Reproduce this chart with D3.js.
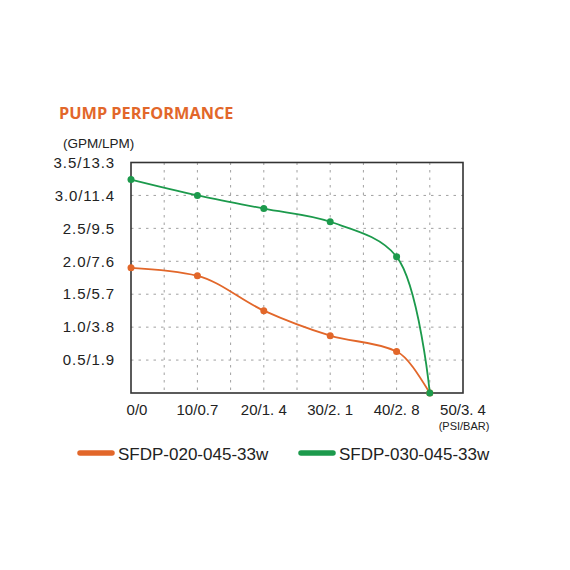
<!DOCTYPE html>
<html>
<head>
<meta charset="utf-8">
<script src="https://d3js.org/d3.v7.min.js"></script>
<style>
  body { margin: 0; background: #fff; }
  svg { display: block; font-family: "Liberation Sans", Arial, sans-serif; }
</style>
</head>
<body>
<script>
// pressure in psi (x), flow in gpm (y)
var psi = [0, 10, 20, 30, 40, 45];
var flow020 = [1.9, 1.78, 1.25, 0.87, 0.63, 0];
var flow030 = [3.24, 3.0, 2.8, 2.6, 2.07, 0];

var xTicks = [0, 10, 20, 30, 40, 50];
var xTickLabels = ["0/0", "10/0.7", "20/1. 4", "30/2. 1", "40/2. 8", "50/3. 4"];
var yTicks = [0.5, 1.0, 1.5, 2.0, 2.5, 3.0, 3.5];
var yTickLabels = ["0.5/1.9", "1.0/3.8", "1.5/5.7", "2.0/7.6", "2.5/9.5", "3.0/11.4", "3.5/13.3"];

var seriesNames = ["SFDP-020-045-33w", "SFDP-030-045-33w"];
var orange = "#e2672a";
var green = "#1c9a4c";

var width = 570, height = 570;
var plotL = 131, plotR = 463, plotT = 162.5, plotB = 393;

var svg = d3.select("body").append("svg")
    .attr("width", width)
    .attr("height", height);

var x = d3.scaleLinear().domain([0, 50]).range([plotL, plotR]);
var y = d3.scaleLinear().domain([0, 3.5]).range([plotB, plotT]);

// title
svg.append("text")
    .attr("x", 59).attr("y", 119)
    .attr("font-family", "'Open Sans', sans-serif")
    .attr("font-weight", "bold")
    .attr("font-size", 16.3)
    .attr("fill", orange)
    .text("PUMP PERFORMANCE");

svg.append("text")
    .attr("x", 63).attr("y", 148)
    .attr("font-size", 13.5)
    .attr("fill", "#222")
    .text("(GPM/LPM)");

// grid, every 5 psi and every 0.5 gpm
var g = svg.append("g");
g.selectAll(".vgrid")
    .data(d3.range(5, 50, 5))
    .enter().append("line")
    .attr("x1", d => x(d)).attr("x2", d => x(d))
    .attr("y1", plotT).attr("y2", plotB)
    .attr("stroke", "#a0a0a0")
    .attr("stroke-width", 1)
    .attr("stroke-dasharray", "2.5,5");

g.selectAll(".hgrid")
    .data(yTicks.slice(0, -1))
    .enter().append("line")
    .attr("x1", plotL).attr("x2", plotR)
    .attr("y1", d => y(d)).attr("y2", d => y(d))
    .attr("stroke", "#a0a0a0")
    .attr("stroke-width", 1)
    .attr("stroke-dasharray", "2.5,5");

svg.append("rect")
    .attr("x", plotL).attr("y", plotT)
    .attr("width", plotR - plotL).attr("height", plotB - plotT)
    .attr("fill", "none")
    .attr("stroke", "#333")
    .attr("stroke-width", 1.6);

// axis labels
svg.selectAll(".ylab")
    .data(yTicks)
    .enter().append("text")
    .attr("x", 115)
    .attr("y", d => y(d))
    .attr("dy", "0.35em")
    .attr("text-anchor", "end")
    .attr("font-size", 15)
    .attr("letter-spacing", 0.9)
    .attr("fill", "#222")
    .text((d, i) => yTickLabels[i]);

svg.selectAll(".xlab")
    .data(xTicks)
    .enter().append("text")
    .attr("x", (d, i) => x(d) + (i == 0 ? 6 : 0))
    .attr("y", 415)
    .attr("text-anchor", "middle")
    .attr("font-size", 15)
    .attr("fill", "#222")
    .text((d, i) => xTickLabels[i]);

svg.append("text")
    .attr("x", 464).attr("y", 430)
    .attr("text-anchor", "middle")
    .attr("font-size", 11)
    .attr("fill", "#222")
    .text("(PSI/BAR)");

// curves
var series = [
    { name: seriesNames[0], color: orange, values: flow020, curve: d3.curveMonotoneX },
    { name: seriesNames[1], color: green, values: flow030, curve: d3.curveCatmullRom }
];

series.forEach(function(s) {
    var pts = psi.map((p, i) => [p, s.values[i]]);
    var line = d3.line()
        .x(d => x(d[0]))
        .y(d => y(d[1]))
        .curve(s.curve);
    svg.append("path")
        .datum(pts)
        .attr("d", line)
        .attr("fill", "none")
        .attr("stroke", s.color)
        .attr("stroke-width", 1.8);
    svg.selectAll(null)
        .data(pts)
        .enter().append("circle")
        .attr("cx", d => x(d[0]))
        .attr("cy", d => y(d[1]))
        .attr("r", 3.5)
        .attr("fill", s.color);
});

// legend
var legendX = [80, 301];
series.forEach(function(s, i) {
    svg.append("line")
        .attr("x1", legendX[i]).attr("x2", legendX[i] + 32)
        .attr("y1", 453).attr("y2", 453)
        .attr("stroke", s.color)
        .attr("stroke-width", 5.5)
        .attr("stroke-linecap", "round");
    svg.append("text")
        .attr("x", legendX[i] + 38).attr("y", 459.5)
        .attr("font-size", 17)
        .attr("fill", "#222")
        .text(s.name);
});
</script>
</body>
</html>
